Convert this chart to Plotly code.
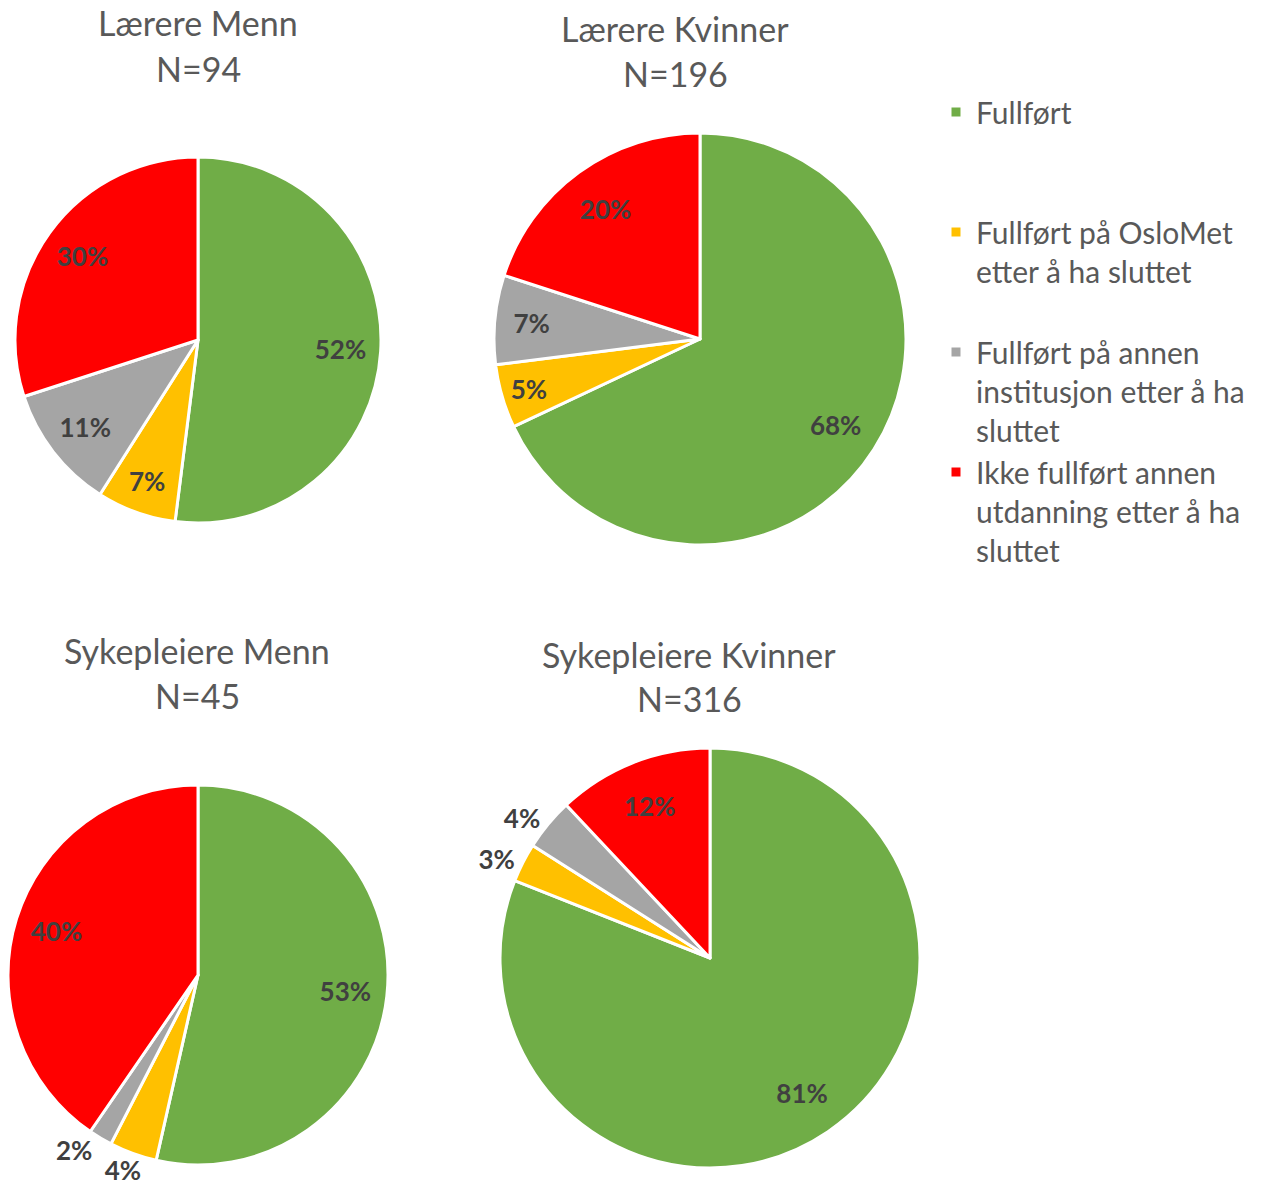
import plotly.graph_objects as go

W, H = 1264, 1189

# ---- data ----
categories = [
    "Fullført",
    "Fullført på OsloMet<br>etter å ha sluttet",
    "Fullført på annen<br>institusjon etter å ha<br>sluttet",
    "Ikke fullført annen<br>utdanning etter å ha<br>sluttet",
]
group_names = ["Lærere Menn", "Lærere Kvinner", "Sykepleiere Menn", "Sykepleiere Kvinner"]
group_n = [94, 196, 45, 316]
laerere_menn = [52, 7, 11, 30]
laerere_kvinner = [68, 5, 7, 20]
sykepleiere_menn = [53, 4, 2, 40]
sykepleiere_kvinner = [81, 3, 4, 12]
series = [laerere_menn, laerere_kvinner, sykepleiere_menn, sykepleiere_kvinner]

# ---- styling / layout ----
colors = ["#70AD47", "#FFC000", "#A5A5A5", "#FF0000"]
# labels carried by a transparent ring (inside labels pushed outward like Excel)
ring_text_positions = [
    ["inside"] * 4,
    ["inside"] * 4,
    ["inside", "none", "outside", "inside"],
    ["inside", "outside", "outside", "inside"],
]
# extra outer labels on a separate transparent layer (kept apart from the ring's labels)
outer_text_positions = [None, None, ["none", "outside", "none", "none"], None]
outer_shift_px = [None, None, (16, 2), None]   # nudge of that label layer (dx, dy)
# pie boxes in pixels: (left, right, top, bottom)
pie_boxes = [(15, 381, 157, 523), (494, 906, 133, 545), (8, 388, 785, 1165), (500, 920, 748, 1168)]
# title positions in pixels: (x center, y first line, y second line)
title_pos = [(198, 23, 68), (675, 28, 73), (197, 650, 695), (689, 654, 698)]

# pad legend labels to equal line counts so legend rows are evenly spaced
max_lines = max(c.count("<br>") + 1 for c in categories)
legend_labels = [c + "<br> " * (max_lines - (c.count("<br>") + 1)) for c in categories]

label_font = dict(family="Lato", size=26, color="#404040", weight="bold")
clear = ["rgba(0,0,0,0)"] * len(categories)


def box_domain(l, r, t, b):
    return dict(x=[l / W, r / W], y=[1 - b / H, 1 - t / H])


fig = go.Figure()
for i, vals in enumerate(series):
    l, r, t, b = pie_boxes[i]
    common = dict(labels=legend_labels, values=vals, sort=False,
                  direction="clockwise", rotation=0, name=group_names[i])
    # coloured slices
    fig.add_trace(go.Pie(
        **common,
        domain=box_domain(l, r, t, b),
        marker=dict(colors=colors, line=dict(color="white", width=3)),
        textinfo="none",
        showlegend=(i == 0),
        hoverinfo="label+value",
    ))
    # transparent ring carrying the data labels
    fig.add_trace(go.Pie(
        **common,
        domain=box_domain(l, r, t, b),
        hole=0.56,
        marker=dict(colors=clear, line=dict(width=0)),
        texttemplate="%{value}%",
        textposition=ring_text_positions[i],
        insidetextorientation="horizontal",
        insidetextfont=label_font,
        outsidetextfont=label_font,
        showlegend=False,
        hoverinfo="skip",
    ))
    if outer_text_positions[i] is not None:
        dx, dy = outer_shift_px[i]
        fig.add_trace(go.Pie(
            **common,
            domain=box_domain(l + dx, r + dx, t + dy, b + dy),
            marker=dict(colors=clear, line=dict(width=0)),
            texttemplate="%{value}%",
            textposition=outer_text_positions[i],
            outsidetextfont=label_font,
            insidetextfont=label_font,
            showlegend=False,
            hoverinfo="skip",
        ))

annotations = []
for i, name in enumerate(group_names):
    x, y1, y2 = title_pos[i]
    for txt, yy in ((name, y1), (f"N={group_n[i]}", y2)):
        annotations.append(dict(
            text=txt, x=x / W, y=1 - yy / H, xref="paper", yref="paper",
            xanchor="center", yanchor="middle", showarrow=False,
            font=dict(family="Lato", size=34, color="#595959"),
        ))

fig.update_layout(
    width=W, height=H,
    margin=dict(l=0, r=0, t=0, b=0, autoexpand=False),
    paper_bgcolor="white",
    plot_bgcolor="white",
    annotations=annotations,
    uniformtext=dict(minsize=26, mode="show"),
    legend=dict(
        x=936 / W, y=1 - 86 / H, xanchor="left", yanchor="top",
        font=dict(family="Lato", size=30, color="#595959"),
        valign="top",
        traceorder="normal",
        bgcolor="rgba(0,0,0,0)",
    ),
)

fig.write_html("out.html", config={"displayModeBar": False},
               post_script="document.body.style.margin='0';")
